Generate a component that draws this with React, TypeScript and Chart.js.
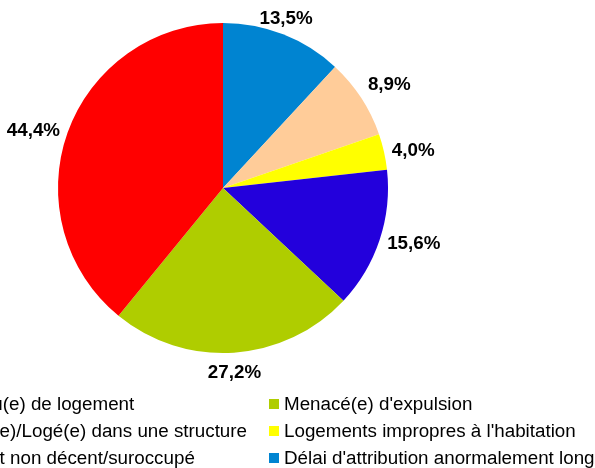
import React, { useEffect, useRef } from "react";
import { Chart, registerables } from "chart.js";

Chart.register(...registerables);

// Legend order (row-major, as in the original legend)
const categories = [
  "Dépourvu(e) de logement",
  "Menacé(e) d'expulsion",
  "Hébergé(e)/Logé(e) dans une structure",
  "Logements impropres à l'habitation",
  "Logement non décent/suroccupé",
  "Délai d'attribution anormalement long",
];
const values = [44.4, 27.2, 15.6, 4.0, 8.9, 13.5];
const colors = ["#ff0000", "#afcd00", "#2300dc", "#ffff00", "#ffcc99", "#0084d1"];

const FONT = "'Liberation Sans', Arial, sans-serif";

const fmt = (v: number) => v.toFixed(1).replace(".", ",") + "%";

const labelPlugin = {
  id: "outerLabels",
  afterDatasetsDraw(chart: any) {
    const ctx = chart.ctx;
    const meta = chart.getDatasetMeta(0);
    const data = chart.data.datasets[0].data as number[];
    const fs = 18.8;
    ctx.save();
    ctx.font = `bold ${fs}px ${FONT}`;
    ctx.fillStyle = "#000";
    ctx.textAlign = "left";
    ctx.textBaseline = "alphabetic";
    const ch = 18 * 0.716;
    meta.data.forEach((arc: any, i: number) => {
      const mid = (arc.startAngle + arc.endAngle) / 2;
      const r = arc.outerRadius + 8;
      const ax = arc.x + Math.cos(mid) * r;
      const ay = arc.y + Math.sin(mid) * r;
      let deg = ((mid + Math.PI / 2) * 180) / Math.PI;
      deg = ((deg % 360) + 360) % 360;
      const sector = Math.round(deg / 45) % 8;
      const txt = fmt(data[i]);
      const w = ctx.measureText(txt).width;
      let x0 = ax - w / 2;
      if (sector >= 1 && sector <= 3) x0 = ax;
      else if (sector >= 5 && sector <= 7) x0 = ax - w;
      let base = ay + ch / 2;
      if (sector === 0 || sector === 1 || sector === 7) base = ay - 3;
      else if (sector >= 3 && sector <= 5) base = ay + ch + 4;
      ctx.fillText(txt, x0, base);
    });
    ctx.restore();
  },
};

const legendPlugin = {
  id: "gridLegend",
  afterDraw(chart: any) {
    const ctx = chart.ctx;
    const labels = (chart.data.labels as string[]).slice().reverse();
    const cols = (chart.data.datasets[0].backgroundColor as string[]).slice().reverse();
    ctx.save();
    ctx.font = `18.8px ${FONT}`;
    ctx.fillStyle = "#000";
    ctx.textBaseline = "alphabetic";
    const rightSquareX = 269;
    const textGap = 15;
    const sq = 10;
    const rowBase = [410, 437, 464];
    let maxLeft = 0;
    for (let i = 0; i < labels.length; i += 2) {
      maxLeft = Math.max(maxLeft, ctx.measureText(labels[i]).width);
    }
    const leftTextX = rightSquareX - 22 - maxLeft;
    const leftSquareX = leftTextX - textGap;
    labels.forEach((lab, i) => {
      const row = Math.floor(i / 2);
      const col = i % 2;
      const sx = col === 0 ? leftSquareX : rightSquareX;
      const base = rowBase[row];
      ctx.fillStyle = cols[i];
      ctx.fillRect(sx, base - 11, sq, sq);
      ctx.fillStyle = "#000";
      ctx.fillText(lab, sx + textGap, base);
    });
    ctx.restore();
  },
};

export default function App() {
  const ref = useRef<HTMLCanvasElement | null>(null);
  useEffect(() => {
    if (!ref.current) return;
    const chart = new Chart(ref.current, {
      type: "pie",
      data: {
        labels: categories.slice().reverse(),
        datasets: [
          {
            data: values.slice().reverse(),
            backgroundColor: colors.slice().reverse(),
            borderWidth: 0,
          },
        ],
      },
      options: {
        responsive: false,
        animation: false,
        layout: { padding: { left: 58, right: 207, top: 23, bottom: 115 } },
        plugins: {
          legend: { display: false },
          tooltip: { enabled: false },
        },
      },
      plugins: [labelPlugin, legendPlugin],
    });
    return () => chart.destroy();
  }, []);
  return (
    <div style={{ position: "fixed", left: 0, top: 0, width: 595, height: 468, background: "#fff" }}>
      <canvas ref={ref} width={595} height={468} style={{ display: "block" }} />
    </div>
  );
}
